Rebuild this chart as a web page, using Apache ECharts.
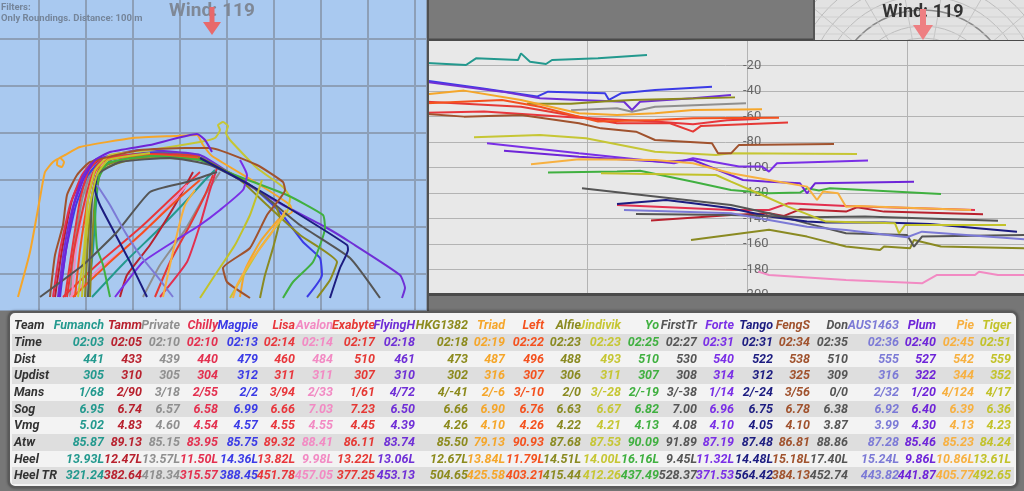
<!DOCTYPE html>
<html>
<head>
<meta charset="utf-8">
<title>Roundings</title>
<script src="https://cdn.jsdelivr.net/npm/echarts@6.0.0/dist/echarts.min.js"></script>
<style>
  body { margin:0; width:1024px; height:491px; overflow:hidden; background:#777; font-family: Roboto, "Noto Sans", sans-serif; position:relative; }
  #track { position:absolute; left:-8px; top:-8px; width:435px; height:319px; }
  #dist { position:absolute; left:427px; top:0; width:597px; height:311px; }
  #wind { position:absolute; left:813px; top:0; width:211px; height:40px; }
  #stats { position:absolute; left:8px; top:311px; width:1006px; height:173px; border:2px solid #5a5a5a; border-radius:7px;
           background:#f3f3f3; box-shadow:0 0 3px rgba(0,0,0,0.5); overflow:hidden; }
  .row { position:absolute; left:2px; right:2px; height:16.67px; }
  .cell { position:absolute; top:0; line-height:16.67px; font-weight:bold; font-style:italic; font-size:12.5px; white-space:nowrap; }
</style>
</head>
<body>
<div id="track"></div>
<div id="dist"></div>
<div id="wind"></div>
<div id="stats"></div>

<script type="text/javascript">

    var teams = ['Fumanch','Tamm','Private','Chilly','Magpie','Lisa','Avalon','Exabyte','FlyingH','HKG1382','Triad','Left',
                 'Alfie','Jindivik','Yo','FirstTr','Forte','Tango','FengS','Don','AUS1463','Plum','Pie','Tiger'];
    var teamColors = ['#23998e','#b8212e','#8f8f8f','#e3304f','#3b3be6','#e8363c','#f28ac3','#e53935','#6f2fd6','#8c8a1d','#f5a62a','#f4511e',
                      '#8a8a22','#c6c634','#40b040','#555555','#7a2fe6','#1c1c80','#a0522d','#555555','#7c7ad6','#6e24d8','#f7b040','#c2c22a'];

    var rowNames = ['Team','Time','Dist','Updist','Mans','Sog','Vmg','Atw','Heel','Heel TR'];
    var times = ['02:03','02:05','02:10','02:10','02:13','02:14','02:14','02:17','02:18','02:18','02:19','02:22',
                 '02:23','02:23','02:25','02:27','02:31','02:31','02:34','02:35','02:36','02:40','02:45','02:51'];
    var dists = [441,433,439,440,479,460,484,510,461,473,487,496,488,493,510,530,540,522,538,510,555,527,542,559];
    var updists = [305,310,305,304,312,311,311,307,310,302,316,307,306,311,307,308,314,312,325,309,316,322,344,352];
    var mans = ['1/68','2/90','3/18','2/55','2/2','3/94','2/33','1/61','4/72','4/-41','2/-6','3/-10',
                '2/0','3/-28','2/-19','3/-38','1/14','2/-24','3/56','0/0','2/32','1/20','4/124','4/17'];
    var sogs = ['6.95','6.74','6.57','6.58','6.99','6.66','7.03','7.23','6.50','6.66','6.90','6.76',
                '6.63','6.67','6.82','7.00','6.96','6.75','6.78','6.38','6.92','6.40','6.39','6.36'];
    var vmgs = ['5.02','4.83','4.60','4.54','4.57','4.55','4.55','4.45','4.39','4.26','4.10','4.26',
                '4.22','4.21','4.13','4.08','4.10','4.05','4.10','3.87','3.99','4.30','4.13','4.23'];
    var atws = ['85.87','89.13','85.15','83.95','85.75','89.32','88.41','86.11','83.74','85.50','79.13','90.93',
                '87.68','87.53','90.09','91.89','87.19','87.48','86.81','88.86','87.28','85.46','85.23','84.24'];
    var heels = ['13.93L','12.47L','13.57L','11.50L','14.36L','13.82L','9.98L','13.22L','13.06L','12.67L','13.84L','11.79L',
                 '14.51L','14.00L','16.16L','9.45L','11.32L','14.48L','15.18L','17.40L','15.24L','9.86L','10.86L','13.61L'];
    var heelTRs = ['321.24','382.64','418.34','315.57','388.45','451.78','457.05','377.25','453.13','504.65','425.58','403.21',
                   '415.44','412.26','437.49','528.37','371.53','564.42','384.13','452.74','443.82','441.87','405.77','492.65'];

    // rounding tracks (map units), one or more segments per team
    var tracks = {
        Fumanch: [[[96,305],[101,258],[104,213],[108,180],[123,165],[168,160],[208,163]],
                  [[100,305],[133,270],[168,236],[195,208],[213,188],[223,178]]],
        Tamm:    [[[63,305],[70,258],[80,208],[93,180],[108,168],[158,162],[203,164]],
                  [[201,180],[183,213],[158,253],[135,283],[128,305]]],
        Private: [[[78,305],[82,258],[90,208],[100,178],[113,166],[168,162],[213,166]],
                  [[228,180],[213,203],[193,238],[168,273],[151,305]]],
        Chilly:  [[[61,305],[68,258],[78,213],[90,183],[103,168],[158,161],[208,164]],
                  [[225,176],[218,198],[208,233],[195,270],[168,305]]],
        Magpie:  [[[68,305],[74,258],[84,213],[96,183],[108,170],[158,161],[208,166],[258,193],[288,220],[311,250],[328,266],[330,283],[315,305]]],
        Lisa:    [[[71,305],[108,270],[148,236],[183,203],[208,180]],
                  [[73,305],[80,258],[88,208],[96,180],[106,168],[158,162],[203,163]]],
        Avalon:  [[[78,305],[108,276],[141,250],[173,218],[195,193]],
                  [[80,305],[84,258],[92,213],[102,183],[113,170]]],
        Exabyte: [[[75,305],[82,258],[93,208],[100,183],[108,170],[158,162],[208,165]],
                  [[163,305],[178,270],[198,233],[213,203],[221,183]]],
        FlyingH: [[[66,305],[72,258],[80,218],[90,186],[103,168],[148,158],[208,163],[251,190],[291,213],[335,236],[358,250],[408,283],[413,296],[410,306]]],
        HKG1382: [[[93,305],[96,248],[100,203],[108,176],[148,164],[208,166],[248,188],[275,213],[308,243],[345,270],[338,288],[325,306]]],
        Triad:   [[[26,305],[38,260],[48,206],[53,180],[61,170],[68,166],[72,170],[70,175],[65,173],[66,167],[73,163],[88,155],
                   [141,146],[183,144],[205,143],[211,153],[220,164],[268,193],[298,213],[300,220],[288,226],[268,250],[253,278],[248,305]]],
        Left:    [[[81,305],[118,270],[148,243],[185,208],[208,188]],
                  [[83,305],[88,258],[96,208],[103,180],[113,168],[158,163],[206,166]]],
        Alfie:   [[[98,305],[100,253],[103,208],[110,178],[148,166],[208,168],[248,186],[283,213],[288,226],[281,256],[273,283],[268,306]]],
        Jindivik:[[[86,305],[92,258],[96,208],[103,178],[118,163],[158,158],[208,150],[223,146],[228,138],[226,133],[231,130],[236,134],
                   [234,141],[238,148],[265,176],[291,195],[298,206],[295,220],[268,256],[238,306]]],
        Yo:      [[[118,305],[111,273],[105,256],[103,218],[106,188],[116,171],[158,164],[208,168],[235,180],[295,203],[331,223],[333,236],
                   [321,270],[301,290],[291,306]]],
        FirstTr: [[[96,305],[98,258],[100,208],[105,183],[128,170],[178,166],[218,173],[261,195],[308,233],[358,266],[388,306]]],
        Forte:   [[[123,305],[151,270],[181,250],[208,233],[228,218],[251,198],[255,183],[248,168]]],
        Tango:   [[[155,305],[138,270],[120,236],[108,213],[103,198],[105,183]],
                  [[208,166],[258,193],[308,223],[355,253],[356,258],[348,276],[338,306]]],
        FengS:   [[[58,305],[63,263],[71,233],[75,203],[85,183],[98,170],[148,158],[193,156],[218,156],[265,173],[291,190],[293,198],
                   [275,223],[258,256],[231,276],[235,290],[258,306]]],
        Don:     [[[48,305],[91,273],[125,240],[158,200],[195,190],[225,180]]],
        AUS1463: [[[105,193],[118,213],[133,240],[148,263],[168,288],[181,305]]],
        Plum:    [[[67,305],[74,258],[82,213],[92,186],[103,168],[118,160],[158,153],[205,142],[213,148],[220,160]]],
        Pie:     [[[171,305],[178,273],[186,238],[193,213],[203,198]],
                  [[294,218],[278,243],[258,270],[245,293],[241,306]]],
        Tiger:   [[[208,306],[223,283],[243,253],[258,223],[265,203],[270,188]],
                  [[90,305],[93,258],[98,213],[105,183],[116,168],[158,161]]]
    };

    // distance-to-line lines, x = time along leg, y = distance
    var distLines = {
        Fumanch: [[0,-18],[39,-19.6],[49,-14.4],[91,-15.7],[94,-10.5],[103,-17],[119,-18.8],[125,-15.7],[171,-14.4],[220,-11.8]],
        Magpie:  [[0,-32],[56,-38],[110,-44.4],[121,-40.5],[178,-41.8],[182,-47],[194,-41.8],[228,-39.2],[285,-36.6]],
        FlyingH: [[0,-33],[75,-40.5],[113,-45.7],[152,-47],[197,-48.4],[205,-54.9],[213,-48.4],[266,-45.7],[304,-43.1]],
        HKG1382: [[100,-50],[144,-50],[180,-48],[205,-47],[308,-45]],
        Private: [[144,-55],[190,-53.6],[205,-56.2],[228,-52.3],[319,-49.7]],
        Triad:   [[0,-42.6],[37,-39.7],[94,-47],[152,-57.5],[190,-58.8],[228,-57.5],[266,-54.9],[335,-54.4]],
        Left:    [[0,-49.7],[75,-47],[113,-52.3],[171,-64],[228,-62.7],[266,-61.4],[352,-60.9]],
        Exabyte: [[0,-48.4],[94,-52.3],[171,-62.7],[190,-65.3],[243,-65.3],[266,-71.9],[274,-67.4],[361,-64.8]],
        Lisa:    [[0,-57],[57,-56],[152,-61],[228,-64],[266,-66],[300,-63],[330,-62]],
        FengS:   [[0,-58],[37,-60.1],[94,-58.8],[152,-65.3],[174,-69.3],[209,-71.9],[228,-78.4],[285,-81],[291,-88.9],[304,-88.9],[312,-82.3],[407,-81.5]],
        Jindivik:[[47,-76.3],[113,-74.5],[159,-77.1],[228,-87.6],[289,-90.2],[304,-88.9],[430,-89.4]],
        Forte:   [[60,-81],[152,-88.9],[247,-96.7],[266,-92.8],[312,-99.3],[335,-99.3],[342,-103.2],[350,-96.7],[441,-94.6]],
        Plum:    [[77,-86.8],[152,-91.5],[235,-95.4],[266,-94.1],[316,-109.8],[342,-111.1],[373,-112.4],[380,-120.2],[388,-112.4],[487,-111.1]],
        Pie:     [[104,-97.5],[152,-93.6],[228,-94.1],[266,-96.7],[304,-104.5],[342,-109.8],[380,-115],[390,-125.5],[396,-118.9],[411,-120.2],[419,-130.7],[430,-130.2],[544,-133.3]],
        Yo:      [[121,-104],[190,-103.2],[213,-102.5],[266,-111.1],[304,-117.6],[342,-120.2],[373,-119.7],[380,-116.3],[392,-118],[403,-116.3],[514,-120.7]],
        Tiger:   [[174,-104.5],[289,-105.9],[304,-111.1],[331,-120.2],[361,-130.7],[399,-142.4],[468,-143.8],[472,-151.6],[478,-145.1],[579,-145.1]],
        FirstTr: [[155,-116.3],[228,-122.8],[304,-129.4],[342,-135.9],[380,-143.8],[419,-151.6],[480,-152.9],[487,-162.1],[495,-154.2],[597,-152.9]],
        Tango:   [[190,-128.6],[239,-125.5],[266,-128.1],[304,-132],[342,-138.5],[380,-142.4],[399,-143.2],[457,-143.2],[503,-144.3],[590,-150.3]],
        Chilly:  [[190,-129.4],[304,-133.3],[342,-133.3],[361,-128.1],[419,-130.2],[548,-133.3]],
        Tamm:    [[224,-141.6],[304,-137.2],[342,-135.9],[357,-138],[373,-132.8],[419,-134.6],[430,-131.2],[457,-134.6],[556,-136.7]],
        AUS1463: [[197,-133.3],[304,-135.9],[380,-146.4],[419,-149],[480,-154.7],[495,-150.3],[597,-156.3]],
        Don:     [[209,-136.4],[304,-137.2],[380,-139.1],[438,-138.5],[571,-141.7]],
        Alfie:   [[264,-156.8],[342,-148.9],[380,-154.2],[419,-162],[453,-164.7],[457,-162],[483,-163.4],[487,-156.8],[514,-162],[597,-163.4]],
        Avalon:  [[331,-181.7],[342,-184.3],[419,-188.2],[495,-190.8],[510,-184.3],[548,-184.3],[552,-181.7],[571,-184.3],[597,-184.3]]
    };

    function colorOf(team){
        return teamColors[teams.indexOf(team)];
    }

    // ---- track map (div sits 8px up/left so the 47px grid lands where the original has it) ----
    function buildTrackChart(){
        var chart = echarts.init(document.getElementById('track'));
        var series = [];
        teams.forEach(function(team){
            (tracks[team] || []).forEach(function(seg){
                series.push({
                    name: team, type: 'line', data: seg, showSymbol: false, smooth: 0.15, silent: true,
                    lineStyle: { color: colorOf(team), width: 2 }
                });
            });
        });
        var hidden = { axisLine: {show:false}, axisTick: {show:false}, axisLabel: {show:false},
                       splitLine: { lineStyle: { color: '#8d9fb7', width: 2 } } };
        chart.setOption({
            animation: false,
            backgroundColor: '#a9c9f0',
            grid: { left: 0, top: 0, right: 0, bottom: 0 },
            xAxis: Object.assign({ type: 'value', min: 0, max: 435, interval: 47 }, hidden),
            yAxis: Object.assign({ type: 'value', inverse: true, min: 0, max: 319, interval: 47 }, hidden),
            graphic: [
                { type: 'text', left: 9, top: 11, z: 50, style: { text: 'Filters:', fill: '#75859a', font: 'bold 9.5px Roboto' } },
                { type: 'text', left: 9, top: 22, z: 50, style: { text: 'Only Roundings. Distance: 100 m', fill: '#75859a', font: 'bold 9.5px Roboto' } },
                { type: 'text', x: 220, y: 19, z: 50, style: { text: 'Wind: 119', fill: '#7f8896', font: 'bold 19px Roboto', align: 'center', verticalAlign: 'middle' } },
                { type: 'rect', z: 51, shape: { x: 217.5, y: 15, width: 5, height: 17 }, style: { fill: '#e8696b' } },
                { type: 'polygon', z: 51, shape: { points: [[211,30],[229,30],[220,43]] }, style: { fill: '#e8696b' } }
            ],
            series: series
        });
    }

    // ---- distance chart ----
    function buildDistChart(){
        var chart = echarts.init(document.getElementById('dist'));
        var series = [];
        teams.forEach(function(team){
            if (!distLines[team]) return;
            series.push({
                name: team, type: 'line', data: distLines[team], showSymbol: false, silent: true,
                lineStyle: { color: colorOf(team), width: 2 }
            });
        });
        chart.setOption({
            animation: false,
            grid: { left: 0, top: 40, width: 597, height: 255, show: true, backgroundColor: '#e8e8e8', borderWidth: 0 },
            xAxis: { type: 'value', min: 0, max: 597, interval: 160,
                     axisLine: {show:false}, axisTick: {show:false}, axisLabel: {show:false},
                     splitLine: { lineStyle: { color: '#b3b3b3', width: 1 } } },
            yAxis: { type: 'value', min: -200, max: 0, interval: 20, offset: -316,
                     axisLine: {show:false}, axisTick: {show:false},
                     axisLabel: { inside: true, margin: 0, color: '#666', fontSize: 13, fontFamily: 'Roboto',
                                  padding: [5,0,0,0], formatter: function(v){ return v === 0 ? '' : v; } },
                     splitLine: { lineStyle: { color: '#b3b3b3', width: 1 } } },
            graphic: [
                { type: 'rect', z: 100, shape: { x: 0, y: 0, width: 386, height: 40 }, style: { fill: '#7a7a7a' } },
                { type: 'rect', z: 101, shape: { x: 0, y: 38.5, width: 597, height: 2.5 }, style: { fill: '#4a4a4a' } },
                { type: 'rect', z: 100, shape: { x: 0, y: 294, width: 597, height: 17 }, style: { fill: '#767676' } },
                { type: 'rect', z: 101, shape: { x: 0, y: 293, width: 597, height: 3 }, style: { fill: '#4a4a4a' } },
                { type: 'rect', z: 101, shape: { x: 0, y: 0, width: 2, height: 311 }, style: { fill: '#505050' } }
            ],
            series: series
        });
    }

    // ---- wind rose strip ----
    function buildWind(){
        var chart = echarts.init(document.getElementById('wind'));
        var g = [];
        [50, 62, 74, 90, 104, 118, 132, 146].forEach(function(r){
            g.push({ type: 'circle', shape: { cx: 110, cy: 100, r: r },
                     style: { fill: null, stroke: r === 90 ? '#8a8a8a' : '#bdbdbd', lineWidth: r === 90 ? 1.5 : 1 } });
        });
        for (var a = 20; a < 180; a += 20) {
            var rad = a * Math.PI / 180;
            g.push({ type: 'line', shape: { x1: 110, y1: 100, x2: 110 + 160 * Math.cos(rad), y2: 100 - 160 * Math.sin(rad) },
                     style: { stroke: '#c4c4c4', lineWidth: 1 } });
        }
        [8, 17, 26, 34].forEach(function(y){
            g.push({ type: 'line', shape: { x1: 0, y1: y, x2: 211, y2: y }, style: { stroke: '#d0d0d0', lineWidth: 1 } });
        });
        g.push({ type: 'text', x: 110, y: 12, style: { text: 'Wind: 119', fill: '#333', font: 'bold 18px Roboto', align: 'center', verticalAlign: 'middle' } });
        g.push({ type: 'rect', shape: { x: 107, y: 9, width: 6, height: 18 }, style: { fill: '#ee7f82' } });
        g.push({ type: 'polygon', shape: { points: [[100,25],[120,25],[110,40]] }, style: { fill: '#ee7f82' } });
        g.push({ type: 'rect', shape: { x: 0, y: 0, width: 2, height: 40 }, style: { fill: '#555' } });
        chart.setOption({ animation: false, backgroundColor: '#e2e2e2', graphic: g });
    }

    // ---- stats table ----
    var colRight = [104,142,180,218,258,295,333,375,415,468,505,544,581,621,659,697,734,773,810,848,899,936,974,1011];
    function buildTable(){
        var box = document.getElementById('stats');
        var rows = [teams, times, dists, updists, mans, sogs, vmgs, atws, heels, heelTRs];
        rows.forEach(function(vals, r){
            var row = document.createElement('div');
            row.className = 'row';
            row.style.top = (4.4 + 16.67 * r) + 'px';
            row.style.background = (r % 2 === 0) ? '#f3f3f3' : '#dedede';
            var lab = document.createElement('span');
            lab.className = 'cell';
            lab.style.left = '2px';
            lab.style.color = '#333';
            lab.textContent = rowNames[r];
            row.appendChild(lab);
            vals.forEach(function(v, i){
                var c = document.createElement('span');
                c.className = 'cell';
                c.style.left = (colRight[i] - 12) + 'px';
                c.style.transform = 'translateX(-100%)';
                c.style.color = teamColors[i];
                c.textContent = v;
                row.appendChild(c);
            });
            box.appendChild(row);
        });
    }

    buildTrackChart();
    buildDistChart();
    buildWind();
    buildTable();

</script>
</body>
</html>
